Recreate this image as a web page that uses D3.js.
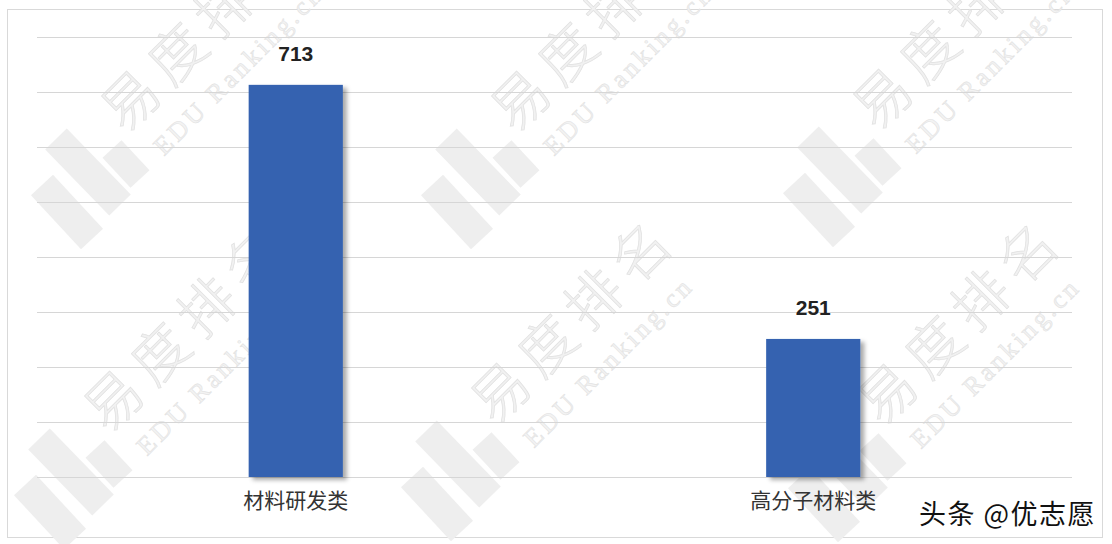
<!DOCTYPE html>
<html><head><meta charset="utf-8">
<script src="https://cdn.jsdelivr.net/npm/d3@7/dist/d3.min.js"></script>
<style>
html,body{margin:0;padding:0;background:#fff;}
svg{display:block;}
</style></head>
<body>
<svg id="chart" width="1112" height="544"></svg>
<script>
const categories = ["材料研发类", "高分子材料类"];
const values = [713, 251];
const yTicks = [0, 100, 200, 300, 400, 500, 600, 700, 800];
const signature = "头条 @优志愿";
const watermarkTitle = "易度排名";
const watermarkSub = "EDU Ranking.cn";

const W = 1112, H = 544;
const m = {left: 37, right: 40, top: 37, bottom: 67};
const svg = d3.select("#chart");

const defs = svg.append("defs");
const f = defs.append("filter").attr("id","shadow").attr("x","-20%").attr("y","-10%").attr("width","150%").attr("height","130%");
f.append("feDropShadow").attr("dx",4).attr("dy",3).attr("stdDeviation",2.2).attr("flood-color","#000").attr("flood-opacity",0.33);

// background + frame
svg.append("rect").attr("width",W).attr("height",H).attr("fill","#fff");
svg.append("rect").attr("x",7.5).attr("y",9.5).attr("width",1095).attr("height",528)
  .attr("fill","none").attr("stroke","#d9d9d9");

// watermark
const wm = svg.append("g").attr("class","watermark");
const anchors = [[130,100],[520,100],[882,98],[113,400],[500,392],[887,393]];
anchors.forEach(([ax,ay])=>{
  const g = wm.append("g").attr("transform",`translate(${ax},${ay}) rotate(-45)`);
  g.append("text").attr("x",-28).attr("y",21).text(watermarkTitle)
    .attr("font-family","'Noto Sans CJK SC'").attr("font-weight",300).attr("font-size",56)
    .attr("fill","#f1f1f1").attr("stroke","#e0e0e0").attr("stroke-width",0.7).attr("letter-spacing",10);
  g.append("text").attr("x",-16).attr("y",64).text(watermarkSub)
    .attr("font-family","'Liberation Serif'").attr("font-size",26).attr("letter-spacing",3.5)
    .attr("fill","#f3f3f3").attr("stroke","#e2e2e2").attr("stroke-width",0.6);
  // logo
  const lx = ax - 38, ly = ay + 85;
  const lg = wm.append("g").attr("transform",`translate(${lx},${ly})`)
    .attr("stroke","#eeeeee").attr("stroke-linecap","butt");
  lg.append("line").attr("x1",-36).attr("y1",-46).attr("x2",28).attr("y2",20).attr("stroke-width",30);
  lg.append("line").attr("x1",20).attr("y1",-36).attr("x2",48).attr("y2",-6).attr("stroke-width",26);
  lg.append("line").attr("x1",-50).attr("y1",0).attr("x2",0).attr("y2",54).attr("stroke-width",30);
});

// scales
const x = d3.scaleBand().domain(categories).range([m.left, W - m.right]).paddingInner(0.818).paddingOuter(0.409);
const y = d3.scaleLinear().domain([0, 800]).range([H - m.bottom, m.top]);

// gridlines
svg.append("g").attr("transform",`translate(${m.left},0)`)
  .call(d3.axisLeft(y).tickValues(yTicks).tickSize(-(W - m.left - m.right)).tickFormat(""))
  .call(g=>g.select(".domain").remove())
  .call(g=>g.selectAll(".tick line").attr("stroke","#d6d6d6").attr("stroke-width",1));

// bars
svg.append("g").selectAll("rect").data(values).join("rect")
  .attr("x",(d,i)=>x(categories[i]))
  .attr("width",x.bandwidth())
  .attr("y",d=>y(d))
  .attr("height",d=>y(0)-y(d))
  .attr("fill","#3462b0")
  .attr("filter","url(#shadow)");

// value labels
svg.append("g").selectAll("text").data(values).join("text")
  .attr("x",(d,i)=>x(categories[i]) + x.bandwidth()/2)
  .attr("y",d=>y(d) - 24)
  .attr("text-anchor","middle")
  .attr("font-family","'Liberation Sans', Arial, sans-serif")
  .attr("font-weight",700).attr("font-size",21).attr("fill","#222")
  .text(d=>d);

// category axis
svg.append("g").attr("transform",`translate(0,${H - m.bottom})`)
  .call(d3.axisBottom(x).tickSize(0).tickPadding(16))
  .call(g=>g.select(".domain").remove())
  .call(g=>g.selectAll("text").attr("font-family","'Noto Sans CJK SC', sans-serif")
    .attr("font-size",21).attr("fill","#333").attr("font-weight",400).attr("letter-spacing",0));

// signature
svg.append("text").attr("x",1096).attr("y",524).attr("text-anchor","end")
  .attr("font-family","'Noto Sans CJK SC', sans-serif").attr("font-size",27).attr("letter-spacing",1.5)
  .attr("fill","#111").attr("stroke","#fff").attr("stroke-width",3).attr("paint-order","stroke")
  .text(signature);
</script>
</body></html>
